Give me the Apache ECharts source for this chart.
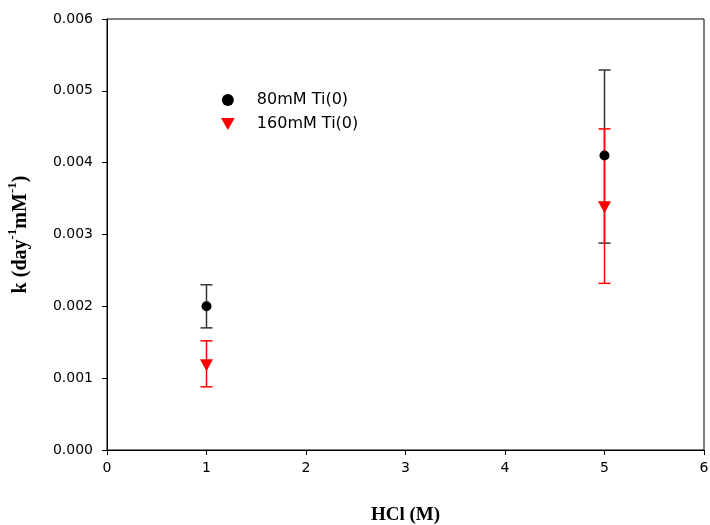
<!DOCTYPE html>
<html><head><meta charset="utf-8">
<script src="https://cdn.jsdelivr.net/npm/echarts@6/dist/echarts.min.js"></script>
<style>html,body{margin:0;padding:0;background:#fff}#c{width:710px;height:525px}</style>
</head><body><div id="c"></div>
<script>
const hcl = [1, 5];
const k80 = [0.00200, 0.00410];
const k80Hi = [0.00230, 0.00529];
const k80Lo = [0.00170, 0.00288];
const k160 = [0.00118, 0.00338];
const k160Hi = [0.00152, 0.00447];
const k160Lo = [0.00088, 0.00232];
const yTicks = ['0.000','0.001','0.002','0.003','0.004','0.005','0.006'];
const seriesNames = ['80mM Ti(0)', '160mM Ti(0)'];

const tickFont = 'DejaVu Sans';
const downTri = 'path://M0,0L2,0L1,1.75Z';
function errData(lo, hi) { return hcl.map((x, i) => [x, lo[i], hi[i]]); }
function errSeries(lo, hi, color) {
  return {
    type: 'custom', silent: true, z: 2,
    data: errData(lo, hi),
    encode: { x: 0, y: [1, 2] },
    renderItem: function (params, api) {
      const x = api.value(0);
      const p1 = api.coord([x, api.value(1)]);
      const p2 = api.coord([x, api.value(2)]);
      const w = 6;
      const st = { stroke: color, lineWidth: 1.5 };
      return { type: 'group', children: [
        { type: 'line', shape: { x1: p1[0], y1: p1[1], x2: p2[0], y2: p2[1] }, style: st },
        { type: 'line', shape: { x1: p1[0]-w, y1: p1[1], x2: p1[0]+w, y2: p1[1] }, style: st },
        { type: 'line', shape: { x1: p2[0]-w, y1: p2[1], x2: p2[0]+w, y2: p2[1] }, style: st }
      ]};
    }
  };
}
const chart = echarts.init(document.getElementById('c'));
chart.setOption({
  animation: false,
  backgroundColor: '#fff',
  grid: { left: 107, top: 19, right: 6, bottom: 75, show: true, borderColor: '#000', borderWidth: 1,
          containLabel: false, outerBoundsMode: 'none' },
  legend: {
    orient: 'vertical', left: 216, top: 87, itemGap: 8, itemWidth: 14, itemHeight: 12,
    data: seriesNames,
    textStyle: { fontFamily: tickFont, fontSize: 16, lineHeight: 16, color: '#000', padding: [0,0,0,17] }
  },
  xAxis: {
    type: 'value', min: 0, max: 6, interval: 1,
    name: 'HCl (M)', nameLocation: 'middle', nameGap: 56,
    nameTextStyle: { fontFamily: 'Liberation Serif', fontWeight: 'bold', fontSize: 19, color: '#000' },
    axisLine: { lineStyle: { color: '#000' } },
    axisTick: { inside: false, length: 5, lineStyle: { color: '#000' } },
    axisLabel: { fontFamily: tickFont, fontSize: 14, color: '#000', margin: 11 },
    splitLine: { show: false }
  },
  yAxis: {
    type: 'value', min: 0, max: 0.006, interval: 0.001,
    name: '{n|k (day}{s|-1}{n|mM}{s|-1}{n|)}', nameLocation: 'middle', nameGap: 76, nameRotate: 90,
    nameTextStyle: { rich: {
      n: { fontFamily: 'Liberation Serif', fontWeight: 'bold', fontSize: 20, color: '#000', lineHeight: 25, verticalAlign: 'bottom' },
      s: { fontFamily: 'Liberation Serif', fontWeight: 'bold', fontSize: 13, color: '#000', lineHeight: 25, verticalAlign: 'top' }
    } },
    axisLine: { lineStyle: { color: '#000' } },
    axisTick: { inside: false, length: 5, lineStyle: { color: '#000' } },
    axisLabel: { fontFamily: tickFont, fontSize: 14, color: '#000', margin: 14,
      formatter: function (v) { return yTicks[Math.round(v * 1000)]; } },
    splitLine: { show: false }
  },
  series: [
    errSeries(k80Lo, k80Hi, '#333'),
    errSeries(k160Lo, k160Hi, '#ff0000'),
    { name: seriesNames[0], type: 'scatter', z: 5, symbol: 'circle', symbolSize: 10,
      itemStyle: { color: '#000', opacity: 1 }, data: hcl.map((x, i) => [x, k80[i]]) },
    { name: seriesNames[1], type: 'scatter', z: 5, symbol: downTri, symbolSize: [13, 12],
      itemStyle: { color: '#ff0000', opacity: 1 }, data: hcl.map((x, i) => [x, k160[i]]) }
  ]
});
</script></body></html>
